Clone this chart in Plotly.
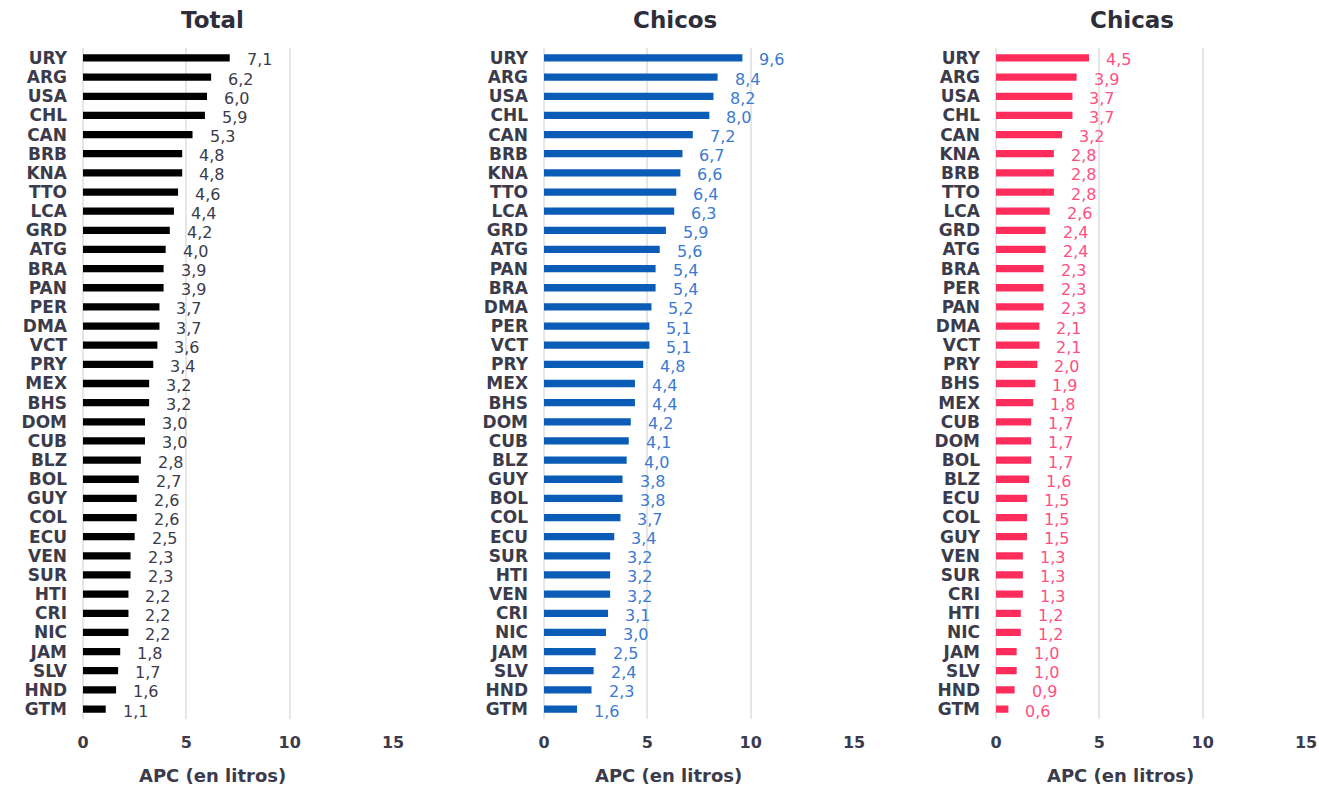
import plotly.graph_objects as go

# Consumo per cápita de alcohol (APC, litros) por país
total_countries = ["URY", "ARG", "USA", "CHL", "CAN", "BRB", "KNA", "TTO", "LCA", "GRD",
                   "ATG", "BRA", "PAN", "PER", "DMA", "VCT", "PRY", "MEX", "BHS", "DOM",
                   "CUB", "BLZ", "BOL", "GUY", "COL", "ECU", "VEN", "SUR", "HTI", "CRI",
                   "NIC", "JAM", "SLV", "HND", "GTM"]
total_values = [7.1, 6.2, 6.0, 5.9, 5.3, 4.8, 4.8, 4.6, 4.4, 4.2,
                4.0, 3.9, 3.9, 3.7, 3.7, 3.6, 3.4, 3.2, 3.2, 3.0,
                3.0, 2.8, 2.7, 2.6, 2.6, 2.5, 2.3, 2.3, 2.2, 2.2,
                2.2, 1.8, 1.7, 1.6, 1.1]

boys_countries = ["URY", "ARG", "USA", "CHL", "CAN", "BRB", "KNA", "TTO", "LCA", "GRD",
                  "ATG", "PAN", "BRA", "DMA", "PER", "VCT", "PRY", "MEX", "BHS", "DOM",
                  "CUB", "BLZ", "GUY", "BOL", "COL", "ECU", "SUR", "HTI", "VEN", "CRI",
                  "NIC", "JAM", "SLV", "HND", "GTM"]
boys_values = [9.6, 8.4, 8.2, 8.0, 7.2, 6.7, 6.6, 6.4, 6.3, 5.9,
               5.6, 5.4, 5.4, 5.2, 5.1, 5.1, 4.8, 4.4, 4.4, 4.2,
               4.1, 4.0, 3.8, 3.8, 3.7, 3.4, 3.2, 3.2, 3.2, 3.1,
               3.0, 2.5, 2.4, 2.3, 1.6]

girls_countries = ["URY", "ARG", "USA", "CHL", "CAN", "KNA", "BRB", "TTO", "LCA", "GRD",
                   "ATG", "BRA", "PER", "PAN", "DMA", "VCT", "PRY", "BHS", "MEX", "CUB",
                   "DOM", "BOL", "BLZ", "ECU", "COL", "GUY", "VEN", "SUR", "CRI", "HTI",
                   "NIC", "JAM", "SLV", "HND", "GTM"]
girls_values = [4.5, 3.9, 3.7, 3.7, 3.2, 2.8, 2.8, 2.8, 2.6, 2.4,
                2.4, 2.3, 2.3, 2.3, 2.1, 2.1, 2.0, 1.9, 1.8, 1.7,
                1.7, 1.7, 1.6, 1.5, 1.5, 1.5, 1.3, 1.3, 1.3, 1.2,
                1.2, 1.0, 1.0, 0.9, 0.6]

panel_titles = ["Total", "Chicos", "Chicas"]
x_ticks = [0, 5, 10, 15]
axis_title = "APC (en litros)"

W, H = 1319, 785
FONT = "DejaVu Sans"
TEXT = "#3b3b4b"
GRID = "#e6e6e6"

panels = [
    dict(cats=total_countries, vals=total_values, bar="#000000", lab="#3b3b4b",
         x0=83, x1=393, title_x=213, axis_x=212),
    dict(cats=boys_countries, vals=boys_values, bar="#0b5cb6", lab="#3a7ad2",
         x0=544, x1=854, title_x=675, axis_x=668),
    dict(cats=girls_countries, vals=girls_values, bar="#ff2d5c", lab="#ff4f80",
         x0=996, x1=1306, title_x=1132, axis_x=1120),
]

y_bottom = 1 - 718.6 / H
y_top = 1 - 48.4 / H

fig = go.Figure()
annotations = []
layout_axes = {}

for i, p in enumerate(panels, start=1):
    xa = "x" if i == 1 else f"x{i}"
    ya = "y" if i == 1 else f"y{i}"
    fig.add_trace(go.Bar(
        x=p["vals"], y=p["cats"], orientation="h",
        marker=dict(color=p["bar"], line=dict(width=0)),
        width=0.38, xaxis=xa, yaxis=ya, showlegend=False, hoverinfo="x+y",
    ))
    for c, v in zip(p["cats"], p["vals"]):
        annotations.append(dict(
            x=v, y=c, xref=xa, yref=ya, text=f"{v:.1f}".replace(".", ","),
            showarrow=False, xanchor="left", yanchor="middle", xshift=15, yshift=-2,
            font=dict(family=FONT, size=16, color=p["lab"]),
        ))
    annotations.append(dict(
        x=p["title_x"] / W, y=1 - 20 / H, xref="paper", yref="paper",
        text=f"<b>{panel_titles[i - 1]}</b>", showarrow=False,
        xanchor="center", yanchor="middle",
        font=dict(family=FONT, size=23, color="#2e2e3a"),
    ))
    annotations.append(dict(
        x=p["axis_x"] / W, y=1 - 775 / H, xref="paper", yref="paper",
        text=f"<b>{axis_title}</b>", showarrow=False,
        xanchor="center", yanchor="middle",
        font=dict(family=FONT, size=18, color=TEXT),
    ))
    xkey = "xaxis" if i == 1 else f"xaxis{i}"
    ykey = "yaxis" if i == 1 else f"yaxis{i}"
    layout_axes[xkey] = dict(
        domain=[p["x0"] / W, p["x1"] / W], range=[0, 15], anchor=ya,
        tickmode="array", tickvals=x_ticks, ticktext=[str(t) for t in x_ticks],
        showgrid=True, gridcolor=GRID, gridwidth=2,
        zeroline=True, zerolinecolor=GRID, zerolinewidth=2,
        showline=False, ticks="", ticklabelstandoff=12, automargin=False,
        tickfont=dict(family=FONT, size=16, color=TEXT, weight="bold"),
        fixedrange=True,
    )
    layout_axes[ykey] = dict(
        domain=[y_bottom, y_top], anchor=xa,
        type="category", categoryorder="array", categoryarray=p["cats"],
        tickmode="array", tickvals=p["cats"], ticktext=p["cats"],
        range=[len(p["cats"]) - 0.5, -0.5],
        showgrid=False, zeroline=False, showline=False, ticks="",
        ticklabelstandoff=15, automargin=False,
        tickfont=dict(family=FONT, size=17, color=TEXT, weight="bold"),
        fixedrange=True,
    )

fig.update_layout(
    width=W, height=H, autosize=False,
    margin=dict(l=0, r=0, t=0, b=0, pad=0, autoexpand=False),
    paper_bgcolor="white", plot_bgcolor="white",
    annotations=annotations,
    bargap=0.6,
    **layout_axes,
)

fig.write_html("out.html", config={"displayModeBar": False})
